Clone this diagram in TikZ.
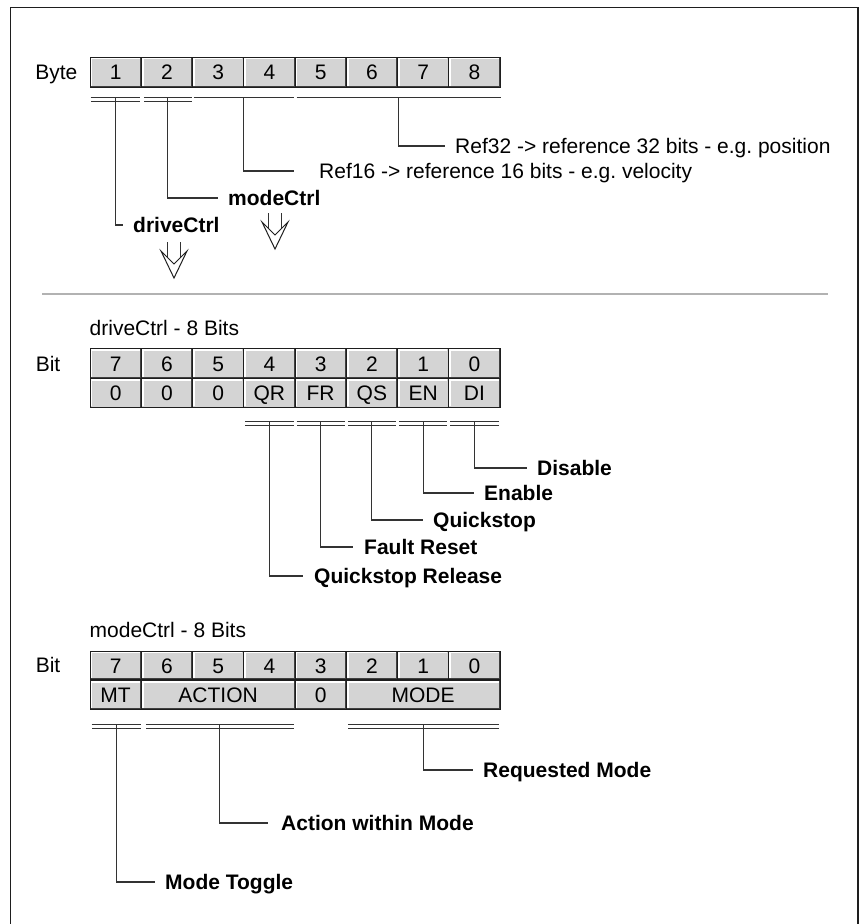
\documentclass[tikz,border=0pt]{standalone}
\usepackage{fontspec}
\setmainfont{Liberation Sans}
\usepackage{tikz}
\usetikzlibrary{positioning}
\definecolor{ink}{HTML}{1E1E1E}
\definecolor{linegray}{HTML}{333333}
\definecolor{cellgray}{HTML}{D4D4D4}
\newcommand\dfont{\fontsize{21}{25}\selectfont}
\frenchspacing

\begin{document}
\begin{tikzpicture}[x=1pt, y=-1pt, font=\dfont,
  cell/.style={draw=ink, fill=cellgray, line width=1pt, minimum width=51.25pt, minimum height=29.5pt, inner sep=0pt,
    text height=15.5pt, text depth=0pt,
    path picture={
      \draw[white, line width=1.6pt] ([shift={(1.5pt,1.5pt)}]path picture bounding box.south west) |- ([shift={(-1.5pt,-1.5pt)}]path picture bounding box.north east);
      \draw[black!75, line width=2.2pt] (path picture bounding box.south west) -| (path picture bounding box.north east);}},
  txt/.style={inner sep=0pt, text height=15pt, text depth=0pt},
  lbl/.style={anchor=west, text height=15pt, text depth=0pt, inner ysep=0pt, inner xsep=10pt},
  lblb/.style={lbl, font=\dfont\bfseries},
  lead/.style={draw=linegray, line width=1.2pt},
  dbl/.style={draw=linegray, line width=1pt, double, double distance=3pt},
  sgl/.style={draw=linegray, line width=1pt},
  hollowdown/.pic={
    \draw[linegray, line width=1pt] (-6.5,0) -- (-6.5,15.5) (6.5,0) -- (6.5,15.5);
    \draw[ink, line width=1pt, line join=miter] (-13,9) -- (0,36) -- (13,9) -- (0,22) -- cycle;}]
\useasboundingbox (0,0) rectangle (863,924);
\draw[ink, line width=1.5pt] (10.5,924) |- (858,7.5) -- (858,924);
\draw[gray!60, line width=1.6pt] (42,294) -- (828,294);

% bytes
\foreach \i in {1,...,8}
  \node[cell, minimum height=30pt] (b\i) at ({90+(\i-0.5)*51.25},72) {\i};
\node[txt, left=12pt of b1] (byte) {Byte};
\draw[dbl] ([xshift=1pt,yshift=-12pt]b1.south west) -- coordinate[midway] (u1) ([xshift=-2pt,yshift=-12pt]b1.south east);
\draw[dbl] ([xshift=3pt,yshift=-12pt]b2.south west) -- coordinate[midway] (u2) ([xshift=-1pt,yshift=-12pt]b2.south east);
\draw[sgl] ([xshift=1.5pt,yshift=-10pt]b3.south west) -- coordinate[midway] (u34) ([xshift=-2pt,yshift=-10pt]b4.south east);
\draw[sgl] ([xshift=2pt,yshift=-10pt]b5.south west) -- coordinate[midway] (u58) ([yshift=-10pt]b8.south east);
\node[lblb] (dcl) at (123,225) {driveCtrl};
\node[lblb] (mcl) at (218,198) {modeCtrl};
\node[lbl, inner xsep=25pt] (r16) at (294,171) {Ref16 -> reference 16 bits - e.g. velocity};
\node[lbl] (r32) at (445,146) {Ref32 -> reference 32 bits - e.g. position};
\draw[lead] ([yshift=2pt]u1) |- (dcl.west);
\draw[lead] ([yshift=2pt]u2) |- (mcl.west);
\draw[lead] (u34) |- (r16.west);
\draw[lead] (u58) |- (r32.west);
\pic at (174,242) {hollowdown};
\pic at (275,213) {hollowdown};

% driveCtrl
\foreach \b/\v [count=\i] in {7/0,6/0,5/0,4/QR,3/FR,2/QS,1/EN,0/DI} {
  \node[cell] (dt\b) at ({90+(\i-0.5)*51.25},363.5) {\b};
  \node[cell] (dv\b) at ({90+(\i-0.5)*51.25},393) {\v};
}
\node[txt, left=29pt of dt7] (bit1) {Bit};
\node[txt, above right=13pt and 0pt of dt7.north west] (dtitle) {driveCtrl - 8 Bits};
\foreach \b in {4,3,2,1,0}
  \draw[dbl] ([xshift=2pt,yshift=-15pt]dv\b.south west) -- coordinate[midway] (ud\b) ([xshift=-2pt,yshift=-15pt]dv\b.south east);
\node[lblb] (dis) at (527,468) {Disable};
\node[lblb] (ena) at (474,493) {Enable};
\node[lblb] (qst) at (423,520) {Quickstop};
\node[lblb, inner xsep=11pt] (frs) at (353,547) {Fault Reset};
\node[lblb, inner xsep=11pt] (qrl) at (303,576) {Quickstop Release};
\draw[lead] ([yshift=2pt]ud0) |- (dis.west);
\draw[lead] ([yshift=2pt]ud1) |- (ena.west);
\draw[lead] ([yshift=2pt]ud2) |- (qst.west);
\draw[lead] ([yshift=2pt]ud3) |- (frs.west);
\draw[lead] ([yshift=2pt]ud4) |- (qrl.west);

% modeCtrl
\foreach \b [count=\i] in {7,6,5,4,3,2,1,0}
  \node[cell, minimum height=28.5pt] (mt\b) at ({90+(\i-0.5)*51.25},665.25) {\b};
\node[cell, minimum height=28.5pt, below=0pt of mt7] (mmt) {MT};
\node[cell, minimum height=28.5pt, minimum width=153.75pt, below=0pt of mt5] (mac) {ACTION};
\node[cell, minimum height=28.5pt, below=0pt of mt3] (mzr) {0};
\node[cell, minimum height=28.5pt, minimum width=153.75pt, below=0pt of mt1] (mmd) {MODE};
\node[txt, left=29pt of mt7] (bit2) {Bit};
\node[txt, above right=13pt and 0pt of mt7.north west] (mtitle) {modeCtrl - 8 Bits};
\draw[dbl] ([xshift=2pt,yshift=-16.5pt]mmt.south west) -- coordinate[midway] (umt) ([xshift=-1pt,yshift=-16.5pt]mmt.south east);
\draw[dbl] ([xshift=5pt,yshift=-16.5pt]mac.south west) -- coordinate[midway] (uac) ([xshift=-2pt,yshift=-16.5pt]mac.south east);
\draw[dbl] ([xshift=2pt,yshift=-16.5pt]mmd.south west) -- coordinate[midway] (umd) ([xshift=-2pt,yshift=-16.5pt]mmd.south east);
\node[lblb] (rqm) at (473,770) {Requested Mode};
\node[lblb, inner xsep=13pt] (awm) at (268,823) {Action within Mode};
\node[lblb] (mtg) at (155,882) {Mode Toggle};
\draw[lead] ([yshift=2pt]umd) |- (rqm.west);
\draw[lead] ([yshift=2pt]uac) |- (awm.west);
\draw[lead] ([yshift=2pt]umt) |- (mtg.west);
\end{tikzpicture}
\end{document}
